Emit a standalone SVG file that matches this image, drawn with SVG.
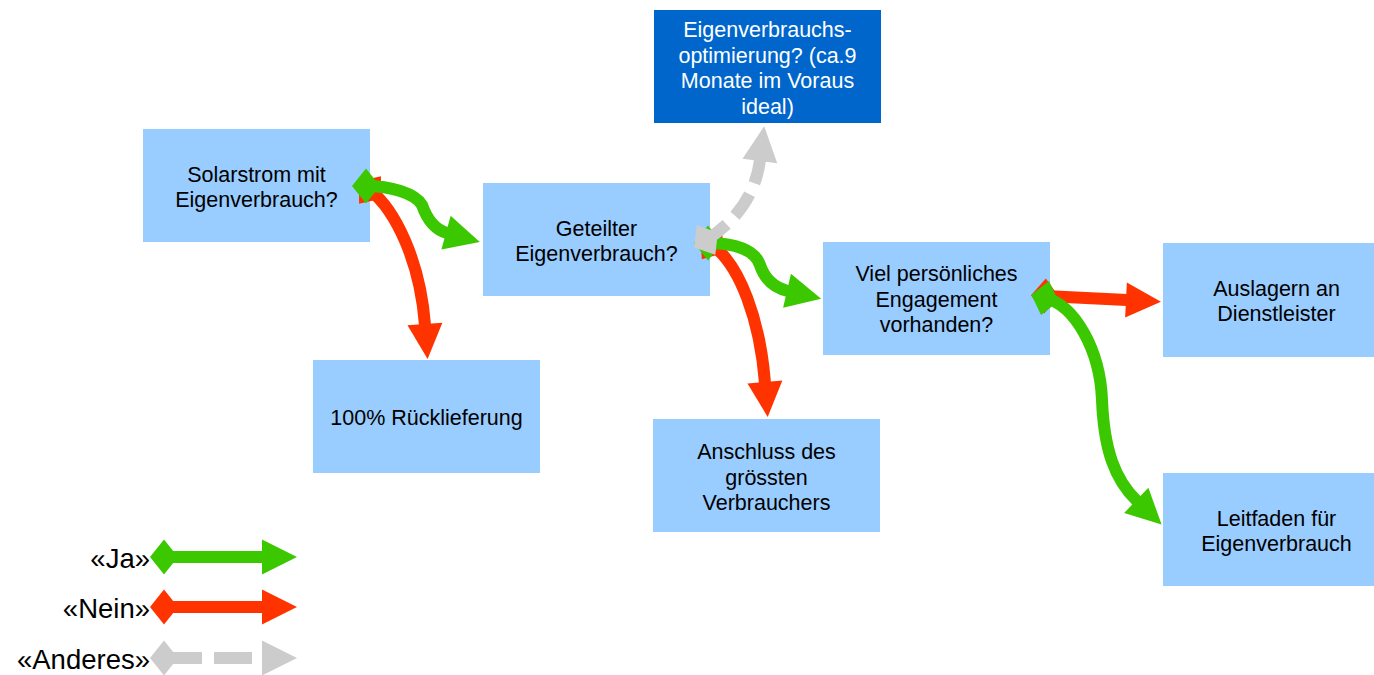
<svg xmlns="http://www.w3.org/2000/svg" width="1374" height="675" viewBox="0 0 1374 675">
<style>
.box{fill:#99ccff}
.dark{fill:#0066cc}
.t{font-family:"Liberation Sans",Arial,sans-serif;font-size:21.5px;fill:#000;text-anchor:middle}
.tw{fill:#fff}
.lg{font-family:"Liberation Sans",Arial,sans-serif;font-size:27.5px;fill:#000;text-anchor:end}
.c{fill:none;stroke-width:12}
.g{stroke:#3cc800;marker-start:url(#dg);marker-end:url(#ag)}
.r{stroke:#ff3300;marker-start:url(#dr);marker-end:url(#ar)}
.y{stroke:#cccccc;stroke-dasharray:26,12;marker-start:url(#dy);marker-end:url(#ay)}
</style>
<defs>
<marker id="ag" markerUnits="userSpaceOnUse" markerWidth="36" markerHeight="36" refX="1" refY="17.5" orient="auto" overflow="visible"><path d="M0,0L35,17.5L0,35z" fill="#3cc800"/></marker>
<marker id="ar" markerUnits="userSpaceOnUse" markerWidth="36" markerHeight="36" refX="1" refY="17.5" orient="auto" overflow="visible"><path d="M0,0L35,17.5L0,35z" fill="#ff3300"/></marker>
<marker id="ay" markerUnits="userSpaceOnUse" markerWidth="36" markerHeight="36" refX="1" refY="17.5" orient="auto" overflow="visible"><path d="M0,0L35,17.5L0,35z" fill="#cccccc"/></marker>
<marker id="dg" markerUnits="userSpaceOnUse" markerWidth="30" markerHeight="36" refX="14" refY="17.5" orient="auto" overflow="visible"><path d="M0,17.5L14,0L28,17.5L14,35z" fill="#3cc800"/></marker>
<marker id="dr" markerUnits="userSpaceOnUse" markerWidth="30" markerHeight="36" refX="14" refY="17.5" orient="auto" overflow="visible"><path d="M0,17.5L14,0L28,17.5L14,35z" fill="#ff3300"/></marker>
<marker id="dy" markerUnits="userSpaceOnUse" markerWidth="30" markerHeight="36" refX="14" refY="17.5" orient="auto" overflow="visible"><path d="M0,17.5L14,0L28,17.5L14,35z" fill="#cccccc"/></marker>
</defs>

<g id="n-solarstrom"><rect class="box" x="143" y="129" width="227" height="113"/><text class="t"><tspan x="256.5" y="182">Solarstrom mit</tspan><tspan x="256.5" y="207">Eigenverbrauch?</tspan></text></g>
<g id="n-ruecklieferung"><rect class="box" x="313" y="360" width="227" height="113"/><text class="t" x="426.5" y="424.5">100% Rücklieferung</text></g>
<g id="n-geteilter"><rect class="box" x="483" y="183" width="227" height="113"/><text class="t"><tspan x="596.5" y="236">Geteilter</tspan><tspan x="596.5" y="261">Eigenverbrauch?</tspan></text></g>
<g id="n-optimierung"><rect class="dark" x="654" y="10" width="227" height="113"/><text class="t tw"><tspan x="767.5" y="37">Eigenverbrauchs-</tspan><tspan x="767.5" y="62.5">optimierung? (ca.9</tspan><tspan x="767.5" y="88">Monate im Voraus</tspan><tspan x="767.5" y="113.5">ideal)</tspan></text></g>
<g id="n-anschluss"><rect class="box" x="653" y="419" width="227" height="113"/><text class="t"><tspan x="766.5" y="459">Anschluss des</tspan><tspan x="766.5" y="484.5">grössten</tspan><tspan x="766.5" y="510">Verbrauchers</tspan></text></g>
<g id="n-engagement"><rect class="box" x="823" y="242" width="227" height="113"/><text class="t"><tspan x="936.5" y="281">Viel persönliches</tspan><tspan x="936.5" y="306.5">Engagement</tspan><tspan x="936.5" y="332">vorhanden?</tspan></text></g>
<g id="n-auslagern"><rect class="box" x="1163" y="243" width="227" height="114"/><text class="t"><tspan x="1276.5" y="296">Auslagern an</tspan><tspan x="1276.5" y="321">Dienstleister</tspan></text></g>
<g id="n-leitfaden"><rect class="box" x="1163" y="473" width="227" height="113"/><text class="t"><tspan x="1276.5" y="525.5">Leitfaden für</tspan><tspan x="1276.5" y="550.5">Eigenverbrauch</tspan></text></g>

<g id="connectors">
<path class="c r" d="M370,190 C395,210 420,260 425,325"/>
<path class="c g" d="M366,186 C390,186 415,193 422,205 C428,222 436,230 447,233"/>
<path class="c r" d="M712,245 C740,265 760,320 765,383"/>
<path class="c g" d="M708,243 C735,243 755,250 760,265 C765,280 775,288 788,291"/>
<path class="c y" d="M706,240 C730,225 755,200 760,160"/>
<path class="c r" d="M1045,296 L1127,300"/>
<path class="c g" d="M1045,298 C1075,305 1100,350 1102,400 C1104,450 1115,480 1137,501"/>
</g>

<g id="legend">
<text class="lg" x="150" y="568">«Ja»</text>
<path class="c g" d="M164,557 L263,557"/>
<text class="lg" x="150" y="618">«Nein»</text>
<path class="c r" d="M164,607 L263,607"/>
<text class="lg" x="150" y="669">«Anderes»</text>
<path class="c y" d="M164,658 L263,658" style="stroke-dasharray:38,12"/>
</g>
</svg>
